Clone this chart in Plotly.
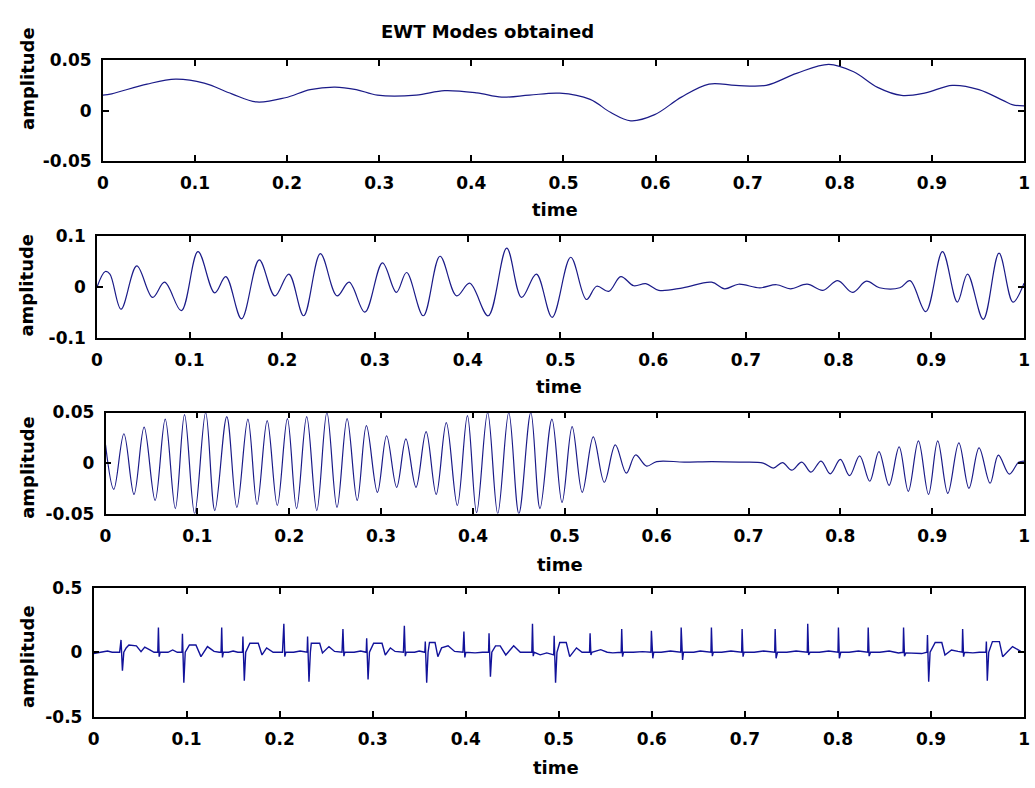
import plotly.graph_objects as go

# ---------------- data ----------------
time_ticks = [0, 0.1, 0.2, 0.3, 0.4, 0.5, 0.6, 0.7, 0.8, 0.9, 1.0]
time_labels = ["0", "0.1", "0.2", "0.3", "0.4", "0.5", "0.6", "0.7", "0.8", "0.9", "1"]

y1_ticks = [-0.05, 0, 0.05]
y1_labels = ["-0.05", "0", "0.05"]
y2_ticks = [-0.1, 0, 0.1]
y2_labels = ["-0.1", "0", "0.1"]
y3_ticks = [-0.05, 0, 0.05]
y3_labels = ["-0.05", "0", "0.05"]
y4_ticks = [-0.5, 0, 0.5]
y4_labels = ["-0.5", "0", "0.5"]

# Mode 1
t1 = [0, 0.0096, 0.048, 0.079, 0.110, 0.140, 0.167, 0.198, 0.225, 0.252, 0.275, 0.298,
      0.340, 0.371, 0.406, 0.433, 0.463, 0.496, 0.529, 0.551, 0.573, 0.599, 0.628, 0.658,
      0.687, 0.720, 0.753, 0.788, 0.815, 0.841, 0.867, 0.893, 0.922, 0.951, 0.977, 0.988, 1.0]
v1 = [0.0155, 0.0168, 0.0265, 0.0313, 0.0274, 0.0168, 0.0087, 0.0129, 0.0210, 0.0235, 0.0210, 0.0155,
      0.0155, 0.0200, 0.0177, 0.0135, 0.0155, 0.0174, 0.0113, -0.0016, -0.0100, -0.0039, 0.0135, 0.0265,
      0.0252, 0.0252, 0.0371, 0.0461, 0.0387, 0.0232, 0.0152, 0.0177, 0.0252, 0.0210, 0.0103, 0.0058, 0.0048]

# Mode 2
t2 = [0, 0.009, 0.014, 0.026, 0.043, 0.060, 0.073, 0.091, 0.109, 0.127, 0.139, 0.156, 0.175,
      0.192, 0.207, 0.223, 0.241, 0.259, 0.272, 0.289, 0.308, 0.323, 0.334, 0.352, 0.370, 0.388,
      0.402, 0.422, 0.442, 0.458, 0.474, 0.491, 0.511, 0.528, 0.539, 0.552, 0.565, 0.579, 0.592,
      0.606, 0.632, 0.663, 0.677, 0.692, 0.715, 0.733, 0.748, 0.766, 0.783, 0.799, 0.815, 0.830,
      0.844, 0.866, 0.877, 0.894, 0.912, 0.928, 0.939, 0.956, 0.973, 0.988, 1.0]
v2 = [0, 0.031, 0.026, -0.043, 0.042, -0.020, 0.010, -0.046, 0.070, -0.011, 0.021, -0.062, 0.054,
      -0.017, 0.026, -0.056, 0.066, -0.017, 0.010, -0.049, 0.048, -0.010, 0.029, -0.056, 0.061, -0.017,
      0.008, -0.056, 0.077, -0.020, 0.026, -0.059, 0.059, -0.024, 0.002, -0.008, 0.021, 0.003, 0.007,
      -0.006, -0.001, 0.010, -0.003, 0.006, -0.001, 0.005, -0.003, 0.006, -0.006, 0.013, -0.010, 0.012,
      -0.001, -0.001, 0.013, -0.048, 0.070, -0.029, 0.026, -0.063, 0.067, -0.029, 0.008]

# Mode 3
t3 = [0, 0.009, 0.020, 0.031, 0.042, 0.054, 0.065, 0.076, 0.086, 0.097,
      0.109, 0.119, 0.132, 0.143, 0.155, 0.165, 0.176, 0.187, 0.198, 0.208,
      0.219, 0.230, 0.241, 0.252, 0.263, 0.274, 0.284, 0.296, 0.306, 0.317,
      0.327, 0.338, 0.349, 0.360, 0.371, 0.383, 0.394, 0.404, 0.416, 0.427,
      0.439, 0.450, 0.463, 0.473, 0.486, 0.497, 0.508, 0.519, 0.531, 0.543,
      0.555, 0.567, 0.577, 0.589, 0.600, 0.630, 0.660, 0.690, 0.716, 0.727,
      0.737, 0.747, 0.758, 0.768, 0.779, 0.789, 0.800, 0.810, 0.821, 0.832,
      0.842, 0.853, 0.864, 0.874, 0.885, 0.896, 0.906, 0.917, 0.929, 0.940,
      0.951, 0.963, 0.972, 0.984, 0.994, 1.0]
v3 = [0.018, -0.026, 0.029, -0.031, 0.0355, -0.037, 0.0435, -0.045, 0.048, -0.050,
      0.050, -0.047, 0.046, -0.044, 0.0435, -0.041, 0.042, -0.042, 0.044, -0.045,
      0.046, -0.047, 0.050, -0.044, 0.044, -0.037, 0.037, -0.029, 0.027, -0.024,
      0.024, -0.024, 0.031, -0.031, 0.040, -0.042, 0.047, -0.049, 0.050, -0.050,
      0.050, -0.050, 0.050, -0.045, 0.0435, -0.039, 0.036, -0.029, 0.026, -0.019,
      0.018, -0.010, 0.008, -0.003, 0.0015, 0.001, 0.0015, 0.001, 0.0, -0.005,
      0.0005, -0.007, 0.001, -0.009, 0.002, -0.0107, 0.0036, -0.0125, 0.0071, -0.018,
      0.0114, -0.022, 0.016, -0.028, 0.022, -0.031, 0.022, -0.030, 0.020, -0.025,
      0.015, -0.020, 0.0079, -0.011, 0.0007, 0.002]

# Mode 4 (ECG-like residual)
t4 = [0, 0.008, 0.015, 0.020, 0.028, 0.0295, 0.031, 0.0325, 0.035, 0.038, 0.046, 0.051, 0.055, 0.060, 0.065,
      0.069, 0.0697, 0.0705, 0.0715, 0.080, 0.085, 0.090, 0.095,
      0.0955, 0.097, 0.0985, 0.103, 0.110, 0.1154, 0.1224, 0.1295, 0.135,
      0.137, 0.1377, 0.1385, 0.1395, 0.145, 0.150, 0.155,
      0.160, 0.1605, 0.162, 0.1635, 0.168, 0.177, 0.181, 0.186, 0.193,
      0.203, 0.2045, 0.2055, 0.2065, 0.215, 0.222, 0.2295,
      0.230, 0.2315, 0.233, 0.234, 0.243, 0.246, 0.253, 0.259,
      0.267, 0.268, 0.269, 0.270, 0.280, 0.287, 0.293,
      0.2935, 0.295, 0.2965, 0.301, 0.310, 0.3135, 0.319, 0.324,
      0.333, 0.334, 0.335, 0.336, 0.345, 0.350, 0.356,
      0.3565, 0.358, 0.3595, 0.361, 0.367, 0.370, 0.374, 0.381, 0.388,
      0.397, 0.398, 0.399, 0.400, 0.410, 0.418, 0.4245,
      0.425, 0.4265, 0.428, 0.432, 0.437, 0.443, 0.4515, 0.4586,
      0.471, 0.4717, 0.4725, 0.4735, 0.480, 0.487, 0.4945,
      0.495, 0.4965, 0.498, 0.501, 0.508, 0.5117, 0.519, 0.525,
      0.533, 0.5336, 0.5345, 0.5355, 0.545, 0.552, 0.558, 0.567,
      0.5676, 0.5685, 0.5695, 0.580, 0.590, 0.599,
      0.5995, 0.601, 0.602, 0.610, 0.620, 0.631,
      0.6315, 0.633, 0.634, 0.645, 0.652, 0.6635,
      0.664, 0.665, 0.666, 0.675, 0.685, 0.6965,
      0.697, 0.698, 0.699, 0.710, 0.720, 0.732,
      0.7325, 0.7335, 0.735, 0.745, 0.755, 0.767,
      0.7675, 0.7685, 0.770, 0.780, 0.790, 0.800,
      0.8005, 0.8015, 0.803, 0.812, 0.822, 0.832,
      0.8325, 0.8335, 0.835, 0.845, 0.855, 0.865, 0.870,
      0.8705, 0.8715, 0.873, 0.882, 0.890, 0.8957,
      0.8962, 0.8975, 0.899, 0.9045, 0.9116, 0.915, 0.922, 0.929,
      0.9335, 0.934, 0.935, 0.936, 0.945, 0.952, 0.959,
      0.9595, 0.9605, 0.962, 0.966, 0.9735, 0.977, 0.9876, 0.9965, 1.0]
v4 = [-0.01, 0.0, 0.01, 0.0, 0.0, 0.096, -0.143, 0.0, 0.034, 0.057, 0.05, 0.005, 0.04, 0.02, 0.0,
      0.0, 0.193, -0.034, 0.0, 0.0, 0.018, 0.0, 0.0,
      0.143, -0.237, 0.0, 0.057, 0.057, -0.034, 0.044, 0.0065, 0.0,
      0.0, 0.193, -0.04, 0.0, 0.0, 0.01, 0.0,
      0.0, 0.122, -0.221, 0.0, 0.07, 0.07, -0.021, 0.034, 0.0,
      0.0, 0.221, -0.034, 0.0, 0.0, 0.01, 0.0,
      0.122, -0.229, 0.0, 0.07, 0.07, -0.005, 0.044, 0.0065,
      0.0, 0.180, -0.03, 0.0, 0.0, 0.01, 0.0,
      0.109, -0.211, 0.0, 0.07, 0.07, -0.021, 0.034, 0.0065,
      0.0, 0.206, -0.03, 0.0, 0.0, 0.01, 0.0,
      0.083, -0.237, 0.0, 0.076, 0.076, -0.034, 0.034, 0.05, 0.0065,
      0.0, 0.161, -0.04, 0.0, -0.005, 0.0, 0.0,
      0.148, -0.19, 0.0, 0.05, 0.05, -0.021, 0.05, 0.0,
      0.0, 0.221, -0.03, 0.0, -0.02, -0.005, -0.02,
      0.128, -0.237, 0.0, 0.076, 0.076, -0.034, 0.034, 0.0,
      0.0, 0.148, -0.021, 0.0, 0.02, 0.0, -0.005, 0.0,
      0.180, -0.034, 0.0, 0.0, 0.005, 0.0,
      0.167, -0.047, 0.0, 0.0, 0.01, 0.0,
      0.193, -0.06, 0.0, 0.0, 0.01, 0.0,
      0.193, -0.03, 0.0, 0.0, 0.01, 0.0,
      0.180, -0.034, 0.0, 0.0, 0.01, 0.0,
      0.180, -0.047, 0.0, 0.0, 0.01, 0.0,
      0.221, -0.021, 0.0, 0.0, 0.01, 0.0,
      0.193, -0.047, 0.0, 0.0, 0.01, 0.0,
      0.193, -0.03, 0.0, 0.0, 0.01, -0.005, 0.0,
      0.193, -0.03, -0.005, -0.01, -0.01, 0.0,
      0.135, -0.229, 0.0, 0.076, 0.076, -0.021, 0.018, 0.0065,
      0.0, 0.180, -0.034, 0.0, -0.005, 0.0, 0.0,
      0.083, -0.221, 0.0, 0.083, 0.083, -0.034, 0.044, 0.0065, 0.0]

modes = [
    (t1, v1, y1_ticks, y1_labels, "spline"),
    (t2, v2, y2_ticks, y2_labels, "spline"),
    (t3, v3, y3_ticks, y3_labels, "spline"),
    (t4, v4, y4_ticks, y4_labels, "linear"),
]

# ---------------- layout geometry (pixels of the 1035x788 page) ----------------
W, H = 1035, 788
px_left = [98, 92, 100.7, 88.6]
px_right = 1030
px_top = [51.7, 232.3, 413, 593]
px_bottom = [155, 336.7, 516.7, 725]
time_y = [205, 386, 569, 777]
time_x = [555, 559, 561, 556]
amp_y = [70, 282, 469, 663]

FONT = "DejaVu Sans"
line_colors = ["#1b1b88", "#1b1b88", "#1b1b88", "#12129a"]
line_widths = [1.2, 1.2, 1.2, 1.4]

fig = go.Figure()
annotations = []
for i, (tx, vy, yt, yl, shape) in enumerate(modes):
    k = i + 1
    xa = "x" if k == 1 else f"x{k}"
    ya = "y" if k == 1 else f"y{k}"
    fig.add_trace(go.Scatter(
        x=tx, y=vy, mode="lines", xaxis=xa, yaxis=ya,
        line=dict(color=line_colors[i], width=line_widths[i], shape=shape),
        showlegend=False, hoverinfo="skip"))
    common = dict(showline=True, linecolor="black", linewidth=1.5, mirror="ticks",
                  ticks="inside", ticklen=6, tickwidth=1.5, tickcolor="black",
                  showgrid=False, zeroline=False, ticklabeloverflow="allow",
                  tickfont=dict(family=FONT, size=17, color="black", weight="bold"))
    xdict = dict(common, domain=[px_left[i] / W, px_right / W], range=[0, 1],
                 tickmode="array", tickvals=time_ticks, ticktext=time_labels,
                 anchor=ya, ticklabelstandoff=6)
    ydict = dict(common, domain=[1 - px_bottom[i] / H, 1 - px_top[i] / H],
                 range=[yt[0], yt[-1]], tickmode="array", tickvals=yt, ticktext=yl,
                 anchor=xa, ticklabelstandoff=6)
    fig.update_layout(**{("xaxis" if k == 1 else f"xaxis{k}"): xdict,
                         ("yaxis" if k == 1 else f"yaxis{k}"): ydict})
    annotations.append(dict(text="time", x=time_x[i] / W, y=1 - time_y[i] / H,
                            xref="paper", yref="paper", showarrow=False,
                            xanchor="center", yanchor="middle",
                            font=dict(family=FONT, size=18, color="black", weight="bold")))
    annotations.append(dict(text="amplitude", x=21 / W, y=1 - amp_y[i] / H,
                            xref="paper", yref="paper", showarrow=False, textangle=-90,
                            xanchor="center", yanchor="middle",
                            font=dict(family=FONT, size=18, color="black", weight="bold")))

annotations.append(dict(text="EWT Modes obtained", x=487 / W, y=1 - 22 / H,
                        xref="paper", yref="paper", showarrow=False,
                        xanchor="center", yanchor="middle",
                        font=dict(family=FONT, size=18, color="black", weight="bold")))

fig.update_layout(width=W, height=H, autosize=False,
                  margin=dict(l=0, r=0, t=0, b=0),
                  paper_bgcolor="white", plot_bgcolor="white",
                  annotations=annotations, showlegend=False)

fig.write_html("out.html")
